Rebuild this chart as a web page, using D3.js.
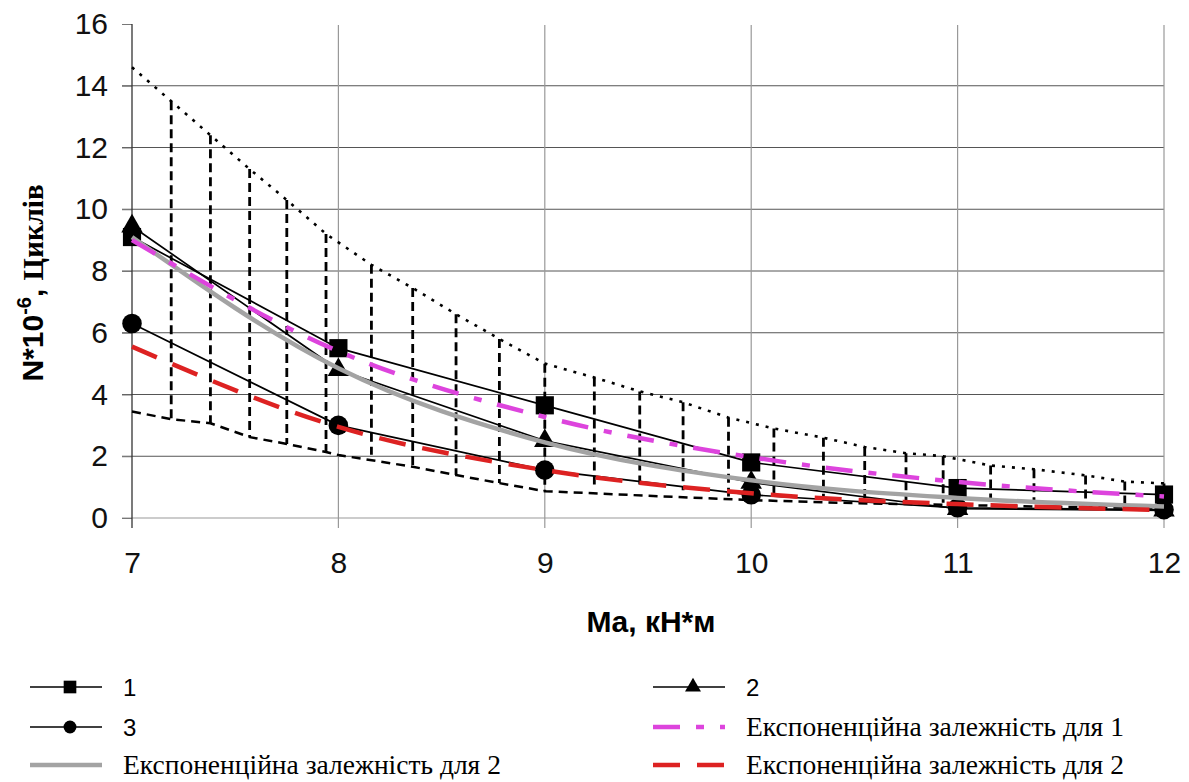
<!DOCTYPE html>
<html><head><meta charset="utf-8">
<script src="https://cdn.jsdelivr.net/npm/d3@7"></script>
<style>body{margin:0;background:#fff}</style>
</head><body>
<svg id="c" width="1189" height="782"></svg>
<script>
// ---- data ----
const xValues = [7, 8, 9, 10, 11, 12];
const series1 = [9.1, 5.5, 3.65, 1.8, 0.97, 0.76];
const series2 = [9.45, 4.8, 2.5, 1.15, 0.3, 0.25];
const series3 = [6.3, 3.0, 1.55, 0.75, 0.33, 0.27];
const expFit1 = [9.0, 5.4, 3.27, 1.97, 1.17, 0.7];
const expFit2 = [9.1, 4.85, 2.45, 1.22, 0.65, 0.37];
const expFit3 = [5.55, 2.95, 1.55, 0.8, 0.45, 0.26];
const yTicks = [0, 2, 4, 6, 8, 10, 12, 14, 16];
const xTicks = [7, 8, 9, 10, 11, 12];
const hatchX = [7.19, 7.38, 7.57, 7.75, 7.94, 8.16, 8.36, 8.57, 8.78, 9.0, 9.24, 9.46, 9.67, 9.89, 10.11, 10.35, 10.55, 10.75, 10.93, 11.16, 11.37, 11.62, 11.81, 12.0];
const hatchTop = [13.5, 12.4, 11.3, 10.3, 9.2, 8.2, 7.45, 6.6, 5.8, 5.0, 4.55, 4.1, 3.75, 3.25, 2.9, 2.6, 2.3, 2.1, 2.0, 1.7, 1.58, 1.38, 1.18, 1.12];
const hatchBottom = [3.2, 3.07, 2.62, 2.4, 2.14, 2.05, 1.64, 1.39, 1.13, 0.87, 1.05, 1.05, 0.9, 0.7, 0.74, 0.58, 0.52, 0.52, 0.49, 0.52, 0.5, 0.32, 0.32, 0.3];
const upperX = [7, 7.19, 7.38, 7.57, 7.75, 7.94, 8.16, 8.36, 8.57, 8.78, 9.0, 9.24, 9.46, 9.67, 9.89, 10.11, 10.35, 10.55, 10.75, 10.93, 11.16, 11.37, 11.62, 11.81, 12.0];
const upperY = [14.6, 13.5, 12.4, 11.3, 10.3, 9.2, 8.2, 7.45, 6.6, 5.8, 5.0, 4.55, 4.1, 3.75, 3.25, 2.9, 2.6, 2.3, 2.1, 2.0, 1.7, 1.58, 1.38, 1.18, 1.12];
const lowerX = [7, 7.19, 7.38, 7.57, 7.75, 7.94, 8.0, 8.36, 8.57, 8.78, 9.0, 9.5, 10.0, 10.5, 11.0, 11.5, 12.0];
const lowerY = [3.45, 3.2, 3.07, 2.62, 2.4, 2.14, 2.04, 1.66, 1.39, 1.13, 0.87, 0.72, 0.58, 0.48, 0.42, 0.36, 0.32];
const legendLabels = ["1", "2", "3", "Експоненційна залежність для 1", "Експоненційна залежність для 2", "Експоненційна залежність для 2"];

// ---- chart ----
const svg = d3.select('#c');
const x = d3.scaleLinear().domain([7, 12]).range([132, 1164]);
const y = d3.scaleLinear().domain([0, 16]).range([518, 24]);
const SANS = "'Liberation Sans', Arial, sans-serif";
const SERIF = "'Liberation Serif', 'Times New Roman', serif";

// horizontal grid
svg.append('g').selectAll('line').data(yTicks.filter(v => v > 0 && v < 16)).join('line')
  .attr('x1', 122).attr('x2', x(12)).attr('y1', d => y(d)).attr('y2', d => y(d))
  .attr('stroke', '#555').attr('stroke-width', 1);
// zero line
svg.append('line').attr('x1', 122).attr('x2', x(12)).attr('y1', y(0)).attr('y2', y(0))
  .attr('stroke', '#999').attr('stroke-width', 1.2);
// vertical grid
svg.append('g').selectAll('line').data(xTicks.filter(v => v > 7)).join('line')
  .attr('x1', d => x(d)).attr('x2', d => x(d)).attr('y1', y(16) + 1).attr('y2', y(0) + 10)
  .attr('stroke', '#999').attr('stroke-width', 1.2);

// y axis
const yAxis = svg.append('g').attr('transform', `translate(${x(7)},0)`)
  .call(d3.axisLeft(y).tickValues(yTicks).tickSize(10).tickPadding(14).tickFormat(d3.format('d')));
yAxis.select('.domain').remove();
yAxis.selectAll('.tick line').attr('stroke', '#777');
yAxis.selectAll('text').attr('font-family', SANS).attr('font-size', 30).attr('fill', '#111');
svg.append('line').attr('x1', x(7)).attr('x2', x(7)).attr('y1', y(16)).attr('y2', y(0) + 10)
  .attr('stroke', '#333').attr('stroke-width', 1.3);

// x axis labels
const xAxis = svg.append('g').attr('transform', `translate(0,${y(0)})`)
  .call(d3.axisBottom(x).tickValues(xTicks).tickSize(0).tickPadding(34).tickFormat(d3.format('d')));
xAxis.select('.domain').remove();
xAxis.selectAll('text').attr('font-family', SANS).attr('font-size', 30).attr('fill', '#111');

// axis titles
svg.append('text').attr('x', 651).attr('y', 632).attr('text-anchor', 'middle')
  .attr('font-family', SANS).attr('font-weight', 'bold').attr('font-size', 30).text('Ma, кН*м');
const yt = svg.append('text').attr('transform', 'translate(43,283) rotate(-90)').attr('text-anchor', 'middle')
  .attr('font-weight', 'bold');
yt.append('tspan').attr('font-family', SANS).attr('font-size', 30).text('N*10');
yt.append('tspan').attr('font-family', SANS).attr('font-size', 20).attr('dy', -12).text('-6');
yt.append('tspan').attr('font-family', SANS).attr('font-size', 30).attr('dy', 12).text(', ');
yt.append('tspan').attr('font-family', SERIF).attr('font-size', 29).text('Циклів');

// hatch band
const hatch = hatchX.map((v, i) => ({ x: v, t: hatchTop[i], b: hatchBottom[i] }));
svg.append('g').selectAll('line').data(hatch).join('line')
  .attr('x1', d => x(d.x)).attr('x2', d => x(d.x)).attr('y1', d => y(d.t)).attr('y2', d => y(d.b))
  .attr('stroke', '#000').attr('stroke-width', 2.8).attr('stroke-dasharray', '9 5');
const line = d3.line().x(d => x(d[0])).y(d => y(d[1]));
svg.append('path').attr('d', line(upperX.map((v, i) => [v, upperY[i]])))
  .attr('fill', 'none').attr('stroke', '#000').attr('stroke-width', 2.6).attr('stroke-dasharray', '3 7');
svg.append('path').attr('d', line(lowerX.map((v, i) => [v, lowerY[i]])))
  .attr('fill', 'none').attr('stroke', '#000').attr('stroke-width', 2.5).attr('stroke-dasharray', '9 6');

// data series
const seriesList = [
  { v: series1, sym: d3.symbolSquare, size: 330 },
  { v: series2, sym: d3.symbolTriangle, size: 200 },
  { v: series3, sym: d3.symbolCircle, size: 300 }
];
seriesList.forEach(s => {
  svg.append('path').attr('d', line(xValues.map((v, i) => [v, s.v[i]])))
    .attr('fill', 'none').attr('stroke', '#000').attr('stroke-width', 1.7);
});
seriesList.forEach(s => {
  svg.append('g').selectAll('path').data(xValues.map((v, i) => [v, s.v[i]])).join('path')
    .attr('transform', d => `translate(${x(d[0])},${y(d[1])})`)
    .attr('d', d3.symbol().type(s.sym).size(s.size)).attr('fill', '#000');
});

// exponential fits
const curve = d3.line().x(d => x(d[0])).y(d => y(d[1])).curve(d3.curveMonotoneX);
svg.append('path').attr('d', curve(xValues.map((v, i) => [v, expFit2[i]])))
  .attr('fill', 'none').attr('stroke', '#a3a3a3').attr('stroke-width', 4.5);
svg.append('path').attr('d', curve(xValues.map((v, i) => [v, expFit1[i]])))
  .attr('fill', 'none').attr('stroke', '#dd44dd').attr('stroke-width', 4.5).attr('stroke-dasharray', '27 16 8 16');
svg.append('path').attr('d', curve(xValues.map((v, i) => [v, expFit3[i]])))
  .attr('fill', 'none').attr('stroke', '#dd2222').attr('stroke-width', 4.5).attr('stroke-dasharray', '27 17');

// legend
const leg = [
  { lx: 30, ly: 687, type: 'marker', sym: d3.symbolSquare, size: 160, label: legendLabels[0] },
  { lx: 653, ly: 687, type: 'marker', sym: d3.symbolTriangle, size: 110, label: legendLabels[1] },
  { lx: 30, ly: 727, type: 'marker', sym: d3.symbolCircle, size: 130, label: legendLabels[2] },
  { lx: 653, ly: 727, type: 'line', color: '#dd44dd', dash: '27 16 8 16', label: legendLabels[3] },
  { lx: 30, ly: 765, type: 'line', color: '#a3a3a3', dash: null, label: legendLabels[4] },
  { lx: 653, ly: 765, type: 'line', color: '#dd2222', dash: '27 17', label: legendLabels[5] }
];
leg.forEach(o => {
  const g = svg.append('g');
  if (o.type === 'marker') {
    g.append('line').attr('x1', o.lx).attr('x2', o.lx + 72).attr('y1', o.ly).attr('y2', o.ly)
      .attr('stroke', '#000').attr('stroke-width', 1.7);
    g.append('path').attr('transform', `translate(${o.lx + 40},${o.ly})`)
      .attr('d', d3.symbol().type(o.sym).size(o.size)).attr('fill', '#000');
    g.append('text').attr('x', o.lx + 93).attr('y', o.ly + 9).attr('font-family', SANS)
      .attr('font-size', 24).text(o.label);
  } else {
    g.append('line').attr('x1', o.lx).attr('x2', o.lx + 72).attr('y1', o.ly).attr('y2', o.ly)
      .attr('stroke', o.color).attr('stroke-width', 4.5).attr('stroke-dasharray', o.dash);
    g.append('text').attr('x', o.lx + 93).attr('y', o.ly + 9).attr('font-family', SERIF)
      .attr('font-size', 27.5).text(o.label);
  }
});
</script>
</body></html>
